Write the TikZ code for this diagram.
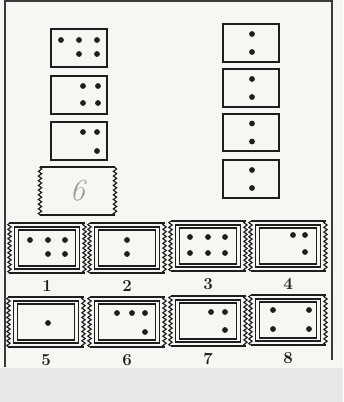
\documentclass[tikz,border=0pt]{standalone}
\usepackage{xcolor}
\usepackage{tikz}
\usetikzlibrary{positioning, calc, decorations.pathmorphing}
\definecolor{paperWhite}{HTML}{F6F6F3}
\definecolor{scanGray}{HTML}{E8E8E6}
\definecolor{inkBlack}{HTML}{1E1E1E}
\definecolor{frameGray}{HTML}{3A3A3A}
\definecolor{pencilGray}{HTML}{A0A0A0}

% pips of a domino, given as offsets from the card centre (in pixels)
\newcommand{\pips}[2]{%
  \foreach \dx/\dy in {#2} {\fill[inkBlack] ($(#1)+(\dx,\dy)$) circle (2.9);}}

% straight top/bottom, scalloped sides
\newcommand{\ticketedge}[1]{%
  \draw[edgeline] (#1.north west) -- (#1.north east);
  \draw[edgeline] (#1.south west) -- (#1.south east);
  \draw[scallop] (#1.south west) -- (#1.north west);
  \draw[scallop] (#1.south east) -- (#1.north east);}

% inner double frame of an answer ticket
\newcommand{\ticketinner}[1]{%
  \draw[innerline] ($(#1.north west)+(5,4)$) rectangle ($(#1.south east)+(-5,-4)$);
  \draw[innerline, line width=1.6pt] ($(#1.north west)+(9,7)$) rectangle ($(#1.south east)+(-9,-7)$);}

\begin{document}
\begin{tikzpicture}[
  x=0.03cm, y=-0.03cm,
  % Styles
  domino/.style={
    rectangle, draw=inkBlack, line width=1.9pt,
    minimum width=1.68cm, minimum height=1.12cm, inner sep=0pt
  },
  ticket/.style={
    rectangle, minimum width=2.25cm, minimum height=1.5cm,
    inner sep=0pt, outer sep=0pt
  },
  edgeline/.style={inkBlack, line width=1.8pt},
  scallop/.style={
    inkBlack, line width=1pt,
    decorate, decoration={snake, amplitude=1.4pt, segment length=4pt}
  },
  innerline/.style={inkBlack, line width=1pt},
  numlabel/.style={font=\Large\bfseries, text=inkBlack, inner sep=1pt},
]

% === PAPER ===
\fill[scanGray] (0,0) rectangle (343,402);
\fill[paperWhite] (0,0) rectangle (343,368);
\useasboundingbox (0,0) rectangle (343,402);
\draw[frameGray, line width=1.6pt] (5,1) -- (332,1);
\draw[frameGray, line width=1.6pt] (5,0) -- (5,367);
\draw[frameGray, line width=1.6pt] (332,0) -- (332,360);

% === LEFT SERIES ===
\node[domino] (la) at (79,48) {};
\node[domino] (lb) at (79,95) {};
\node[domino] (lc) at (79,141) {};
\pips{la}{-18/-8, 0/-8, 18/-8, 0/6, 18/6}
\pips{lb}{4/-9, 19/-9, 4/8, 19/8}
\pips{lc}{4/-9, 18/-9, 18/10}

% answer box
\node[ticket, minimum height=1.44cm] (ans) at (77.5,191)
  {\fontsize{26}{26}\selectfont\itshape\textcolor{pencilGray}{6}};
\ticketedge{ans}

% === RIGHT SERIES ===
\node[domino] (ra) at (251,43) {};
\node[domino] (rb) at (251,88) {};
\node[domino] (rc) at (251,132.5) {};
\node[domino] (rd) at (251,179) {};
\foreach \c in {ra,rb,rc,rd} {\pips{\c}{1/-9, 1/9}}

% === ANSWER TICKETS ===
\node[ticket] (t1) at (47,248) {};
\node[ticket] (t2) at (127,248) {};
\node[ticket] (t3) at (208,246) {};
\node[ticket] (t4) at (288,246) {};
\node[ticket] (t5) at (46,322) {};
\node[ticket] (t6) at (127,322) {};
\node[ticket] (t7) at (208,321) {};
\node[ticket] (t8) at (288,320) {};
\foreach \t in {t1,t2,t3,t4,t5,t6,t7,t8} {\ticketedge{\t}\ticketinner{\t}}

\pips{t1}{-17/-8, 1/-8, 18/-8, 1/6, 18/6}
\pips{t2}{0/-8, 0/6}
\pips{t3}{-18/-9, 0/-9, 17/-9, -18/7, 0/7, 17/7}
\pips{t4}{5/-11, 17/-11, 17/6}
\pips{t5}{2/1}
\pips{t6}{-10/-9, 5/-9, 18/-9, 18/10}
\pips{t7}{3/-9, 17/-9, 17/9}
\pips{t8}{-15/-10, 21/-10, -15/9, 21/9}

% === NUMBERS ===
\foreach \t/\n in {t1/1,t2/2,t3/3,t4/4,t5/5,t6/6,t7/7,t8/8}
  {\node[numlabel, below=0.18cm of \t] (n\n) {\n};}

\end{tikzpicture}
\end{document}
